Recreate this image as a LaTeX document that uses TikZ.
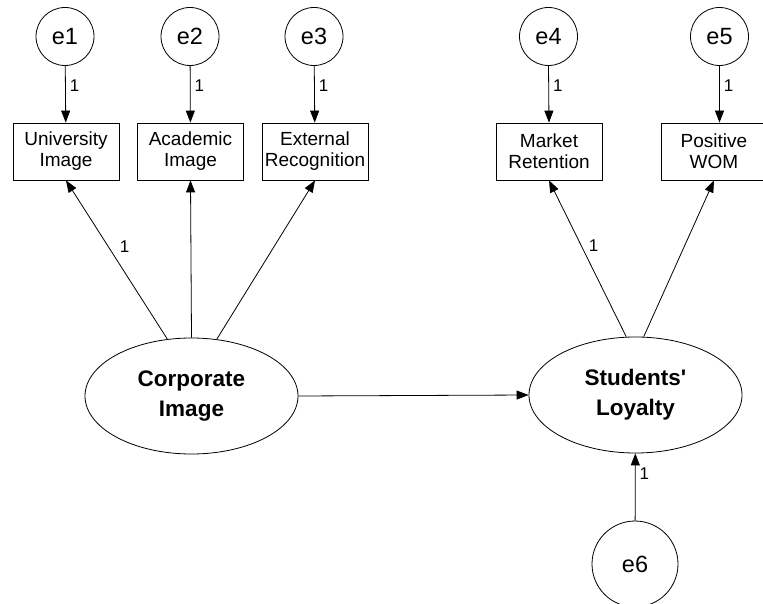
\documentclass[tikz,border=0pt]{standalone}
\usepackage{fontspec}
\setmainfont{Liberation Sans}
\usetikzlibrary{arrows.meta,shapes.geometric}
\begin{document}
\begin{tikzpicture}[x=1pt,y=-1pt,
  line width=0.8pt,
  err/.style={draw,circle,minimum size=58pt,inner sep=0pt,font=\fontsize{23.5}{26}\selectfont},
  bigerr/.style={draw,circle,minimum size=86pt,inner sep=0pt,font=\fontsize{23.5}{26}\selectfont},
  obs/.style={draw,rectangle,minimum width=106pt,minimum height=57pt,inner sep=0pt,align=center,font=\fontsize{19}{21}\selectfont},
  lat/.style={draw,ellipse,minimum width=213pt,minimum height=116pt,inner sep=0pt,align=center,font=\fontsize{22.5}{30}\selectfont\bfseries},
  arr/.style={-{Triangle[length=12pt,width=9pt]}},
  lbl/.style={font=\fontsize{17}{19}\selectfont,inner sep=1pt}]
\useasboundingbox (0,0) rectangle (763,604);
\begin{scope}
\clip (0,0) rectangle (763,604);
% error terms
\node[err] (e1) at (65,36.5) {e1};
\node[err] (e2) at (190,36.5) {e2};
\node[err] (e3) at (314,36.5) {e3};
\node[err] (e4) at (548.5,36.5) {e4};
\node[err] (e5) at (719.5,36.5) {e5};
\node[bigerr] (e6) at (635,564) {e6};
% observed
\node[obs] (ui) at (66,151.5) {University\\Image};
\node[obs] (ai) at (190.5,151.5) {Academic\\Image};
\node[obs] (er) at (315,151.5) {External\\Recognition};
\node[obs] (mr) at (549,151.5) {Market\\Retention};
\node[obs] (pw) at (714,151.5) {Positive\\WOM};
% latent
\node[lat] (ci) at (191.5,396) {Corporate\\Image};
\node[lat] (sl) at (635.5,395) {Students\textquotesingle\\Loyalty};
% error arrows
\draw[arr] (e1) -- node[lbl,pos=0.35,right=3pt] {1} (ui);
\draw[arr] (e2) -- node[lbl,pos=0.35,right=3pt] {1} (ai);
\draw[arr] (e3) -- node[lbl,pos=0.35,right=3pt] {1} (er);
\draw[arr] (e4.south) -- node[lbl,pos=0.35,right=3pt] {1} (mr.north);
\draw[arr] (e5.south) -- node[lbl,pos=0.35,right=3pt] {1} (pw.north -| e5.south);
\draw[arr] (e6) -- node[lbl,pos=0.7,right=3pt] {1} (sl);
% loadings
\draw[arr] (ci.113) -- node[lbl,pos=0.58,right=10pt] {1} (ui.south);
\draw[arr] (ci.north) -- (ai.south);
\draw[arr] (ci.66) -- (er.south);
\draw[arr] (sl.99) -- node[lbl,pos=0.58,right=6pt] {1} (mr.south);
\draw[arr] (sl.82) -- (pw.south);
% structural path
\draw[arr] (ci.east) -- (sl.west);
\end{scope}
\end{tikzpicture}
\end{document}
